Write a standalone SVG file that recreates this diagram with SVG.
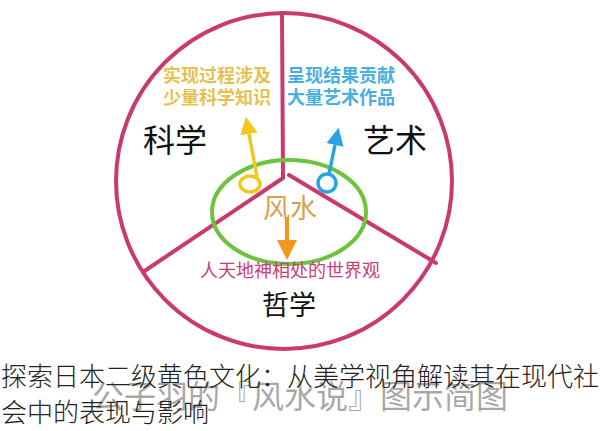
<svg xmlns="http://www.w3.org/2000/svg" width="600" height="431" viewBox="0 0 600 431">
<style>
text{font-family:"Noto Sans CJK SC","Noto Sans",sans-serif}
.ring{fill:none;stroke:#c93a6e;stroke-width:4;stroke-linecap:round}
.big{font-size:32px;fill:#111}
.yl{font-size:18px;fill:#e6c14e;font-weight:bold}
.bl{font-size:18px;fill:#49aee0;font-weight:bold}
.cap{font-size:26px;fill:#222;font-weight:300}
</style>
<defs>
<marker id="ay" viewBox="0 0 10 10" refX="0" refY="5" markerWidth="5" markerHeight="5" orient="auto" markerUnits="strokeWidth"><path d="M0,0 L10,5 L0,10 z" fill="#f2c81e"/></marker>
<marker id="ab" viewBox="0 0 10 10" refX="0" refY="5" markerWidth="5" markerHeight="5" orient="auto" markerUnits="strokeWidth"><path d="M0,0 L10,5 L0,10 z" fill="#2aa2e4"/></marker>
<marker id="ao" viewBox="0 0 10 10" refX="0" refY="5" markerWidth="5" markerHeight="5" orient="auto" markerUnits="strokeWidth"><path d="M0,0 L10,5 L0,10 z" fill="#f5951e"/></marker>
</defs>
<rect width="600" height="431" fill="#fff"/>
<g id="wheel">
<circle class="ring" cx="284" cy="181" r="168"/>
<path class="ring" d="M282,13 L283,177 M283,178 L143,272 M289,175 L436,263"/>
</g>
<g id="fengshui">
<ellipse cx="289" cy="212" rx="77" ry="52" fill="none" stroke="#6cc43e" stroke-width="4"/>
<text x="263" y="218" style="font-size:27px;fill:#d7a24e">风水</text>
</g>
<g id="connectors">
<ellipse cx="250" cy="184" rx="10" ry="8" fill="none" stroke="#f2c81e" stroke-width="3.5"/>
<path d="M257,177 L249,134" stroke="#f2c81e" stroke-width="3.5" fill="none" marker-end="url(#ay)"/>
<circle cx="327" cy="183" r="9" fill="none" stroke="#2aa2e4" stroke-width="3.5"/>
<path d="M329,174 L335,145" stroke="#2aa2e4" stroke-width="3.5" fill="none" marker-end="url(#ab)"/>
<path d="M287,217 L287,240" stroke="#f5951e" stroke-width="4" fill="none" marker-end="url(#ao)"/>
</g>
<g id="science">
<text class="big" x="143" y="152">科学</text>
<text class="yl" x="163" y="82">实现过程涉及</text>
<text class="yl" x="163" y="104">少量科学知识</text>
</g>
<g id="art">
<text class="big" x="363" y="152">艺术</text>
<text class="bl" x="287" y="82">呈现结果贡献</text>
<text class="bl" x="287" y="104">大量艺术作品</text>
</g>
<g id="philosophy">
<text x="200" y="277" style="font-size:18px;fill:#c8407a">人天地神相处的世界观</text>
<text x="262" y="315" style="font-size:27px;fill:#111">哲学</text>
</g>
<g id="caption">
<text x="92" y="408" style="font-size:32px;fill:#8c8c8c;fill-opacity:0.75">公子羽的『风水说』图示简图</text>
<text class="cap" x="1" y="386">探索日本二级黄色文化：从美学视角解读其在现代社</text>
<text class="cap" x="1" y="422">会中的表现与影响</text>
</g>
</svg>
